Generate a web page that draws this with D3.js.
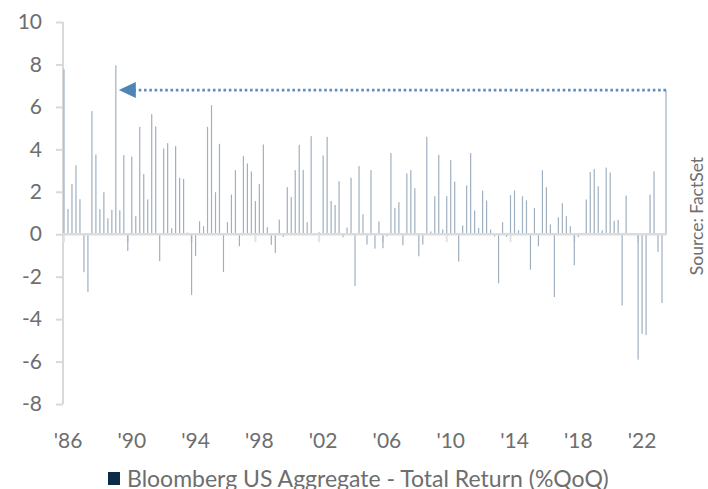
<!DOCTYPE html>
<html lang="en">
  <head>
    <meta charset="utf-8">
    <title>Bloomberg US Aggregate quarterly returns</title>
    <script src="https://d3js.org/d3.v7.min.js" charset="utf-8"></script>
    <style>
      body { margin: 0; background: #fff; }
      text { font-family: Lato, "Open Sans", sans-serif; fill: #6e6e6e; }
    </style>
  </head>
  <body>
    <div id="chart"></div>
    <script>
      // quarterly total return (%QoQ), 1986 Q1 .. 2023 Q4
      const startYear = 1986;
      const returns = [
        7.77, 1.19, 2.37, 3.25, 1.65, -1.79, -2.72, 5.80, 3.76, 1.18, 1.98, 0.75,
        1.15, 7.96, 1.13, 3.73, -0.79, 3.66, 0.85, 5.06, 2.83, 1.64, 5.66, 5.08,
        -1.27, 4.04, 4.29, 0.28, 4.15, 2.66, 2.61, 0.08, -2.86, -1.02, 0.61, 0.38,
        5.06, 6.08, 1.98, 4.26, -1.78, 0.57, 1.87, 3.02, -0.57, 3.68, 3.33, 2.96,
        1.56, 2.36, 4.23, 0.33, -0.50, -0.88, 0.69, -0.13, 2.22, 1.75, 3.02, 4.21,
        3.03, 0.57, 4.62, 0.04, 0.09, 3.71, 4.59, 1.57, 1.38, 2.50, -0.14, 0.31,
        2.66, -2.44, 3.21, 0.94, -0.49, 3.02, -0.68, 0.60, -0.66, -0.10, 3.82, 1.23,
        1.51, -0.52, 2.86, 3.02, 2.17, -1.04, -0.49, 4.59, 0.13, 1.79, 3.74, 0.22,
        1.79, 3.49, 2.48, -1.29, 0.41, 2.30, 3.82, 1.12, 0.30, 2.06, 1.59, 0.22,
        -0.11, -2.31, 0.57, -0.13, 1.84, 2.06, 0.19, 1.79, 1.60, -1.67, 1.23, -0.57,
        3.02, 2.22, 0.46, -2.96, 0.80, 1.46, 0.85, 0.38, -1.46, -0.14, 0.02, 1.64,
        2.94, 3.07, 2.26, 0.19, 3.14, 2.91, 0.63, 0.68, -3.36, 1.82, 0.05, 0.01,
        -5.91, -4.69, -4.75, 1.87, 2.96, -0.83, -3.24, 6.79
      ];
      const tickYears = [1986, 1990, 1994, 1998, 2002, 2006, 2010, 2014, 2018, 2022];
      const tickLabels = ["'86", "'90", "'94", "'98", "'02", "'06", "'10", "'14", "'18", "'22"];
      const yTicks = [-8, -6, -4, -2, 0, 2, 4, 6, 8, 10];
      const arrowFrom = returns.length - 1;   // latest quarter
      const arrowTo = 13;                      // 1989 Q2
      const seriesName = "Bloomberg US Aggregate - Total Return (%QoQ)";
      const sourceText = "Source: FactSet";

      const width = 708, height = 489;
      const svg = d3.select("#chart").append("svg")
        .attr("width", width).attr("height", height);

      const x = d3.scaleLinear().domain([0, returns.length - 1]).range([64, 666]);
      const y = d3.scaleLinear().domain([-8, 10]).range([404, 22]);

      // y axis
      const yAxis = svg.append("g")
        .attr("transform", "translate(63,0)")
        .call(d3.axisLeft(y).tickValues(yTicks).tickSize(7).tickPadding(14)
          .tickFormat(d => String(d)));
      yAxis.select(".domain").attr("stroke", "#d9d9d9").attr("stroke-width", 2)
        .attr("d", "M0," + y(-8) + "V" + y(10));
      yAxis.selectAll(".tick line").attr("stroke", "#d9d9d9").attr("stroke-width", 2);
      yAxis.selectAll(".tick text").style("font-size", "21px").attr("fill", "#6e6e6e")
        .style("font-family", "Lato, sans-serif");

      // x ticks
      svg.append("g").selectAll("line")
        .data(tickYears).enter().append("line")
        .attr("x1", d => x((d - startYear) * 4)).attr("x2", d => x((d - startYear) * 4))
        .attr("y1", y(0)).attr("y2", y(0) + 8)
        .attr("stroke", "#e3e3e3").attr("stroke-width", 2);

      svg.append("g").selectAll("text")
        .data(tickYears).enter().append("text")
        .attr("x", d => x((d - startYear) * 4) + 4)
        .attr("y", 448)
        .attr("text-anchor", "middle")
        .style("font-size", "21px")
        .text((d, i) => tickLabels[i]);

      // bars
      svg.append("g").selectAll("rect")
        .data(returns).enter().append("rect")
        .attr("x", (d, i) => x(i) - 0.6)
        .attr("width", 1.2)
        .attr("y", d => y(Math.max(0, d)))
        .attr("height", d => Math.abs(y(d) - y(0)))
        .attr("fill", "#9fb0c0");

      // zero line
      svg.append("line")
        .attr("x1", 63).attr("x2", x(returns.length - 1) + 1)
        .attr("y1", y(0)).attr("y2", y(0))
        .attr("stroke", "#dcdcdc").attr("stroke-width", 2.5);

      // dotted arrow
      const ay = y(returns[arrowFrom]);
      const tipX = x(arrowTo) + 3;
      svg.append("line")
        .attr("x1", x(arrowFrom)).attr("x2", tipX + 16)
        .attr("y1", ay).attr("y2", ay)
        .attr("stroke", "#5b8fc4").attr("stroke-width", 2.6)
        .attr("stroke-dasharray", "2.6,2.7");
      svg.append("path")
        .attr("d", "M" + tipX + "," + ay + "L" + (tipX + 17) + "," + (ay - 8) +
          "L" + (tipX + 17) + "," + (ay + 8) + "Z")
        .attr("fill", "#4f84b6");

      // source
      svg.append("text")
        .attr("transform", "translate(703,216) rotate(-90)")
        .attr("text-anchor", "middle")
        .style("font-size", "17.5px")
        .text(sourceText);

      // legend
      svg.append("rect")
        .attr("x", 108).attr("y", 472).attr("width", 12).attr("height", 13)
        .attr("fill", "#0c2b4b");
      svg.append("text")
        .attr("x", 127).attr("y", 487)
        .style("font-size", "23px")
        .text(seriesName);
    </script>
  </body>
</html>
